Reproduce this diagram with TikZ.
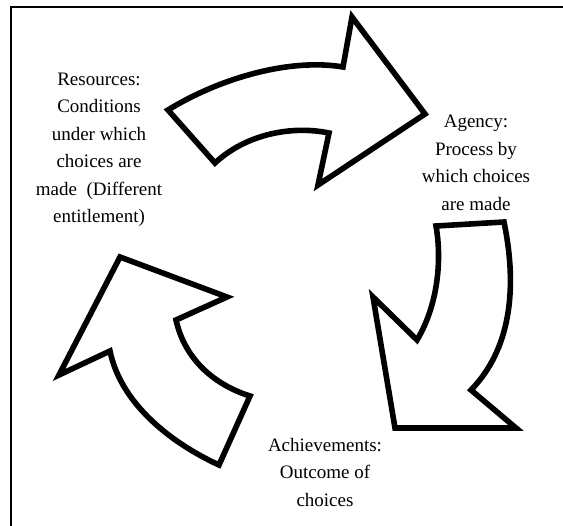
\documentclass[tikz,border=0pt]{standalone}
\usepackage{fontspec}
\setmainfont{Liberation Serif}
\begin{document}
\begin{tikzpicture}[x=1pt,y=-1pt,
  blockarrow/.style={draw=black,line width=5.6pt,line join=miter,miter limit=10,fill=white},
  label/.style={align=center,inner sep=0pt,font=\fontsize{19}{27.5}\selectfont}]
\useasboundingbox (0,0) rectangle (563,526);
\draw[line width=2.2pt] (11,526) -- (11,7) -- (563,7);
% top arrow
\draw[blockarrow] (168,110) .. controls (220,78) and (290,58) .. (343,67) -- (352,17) -- (425,114) -- (318,185) -- (329,133) .. controls (290,125) and (245,135) .. (215,163) -- cycle;
% right arrow
\draw[blockarrow] (436,226) -- (504,222) .. controls (518,290) and (510,350) .. (471,390) -- (516,428) -- (395,428) -- (373,297) -- (417,340) .. controls (438,305) and (442,260) .. (436,226) -- cycle;
% left arrow
\draw[blockarrow] (120,257) -- (227,297) -- (176,320) .. controls (185,360) and (215,385) .. (250,396) -- (219,465) .. controls (165,440) and (120,400) .. (110,351) -- (59,375) -- cycle;
\node[label] (res) at (99,150) {Resources:\\Conditions\\under which\\choices are\\made\ \ (Different\\entitlement)};
\node[label] (agency) at (476,163) {Agency:\\Process by\\which choices\\are made};
\node[label] (ach) at (325,472.5) {Achievements:\\Outcome of\\choices};
\end{tikzpicture}
\end{document}
